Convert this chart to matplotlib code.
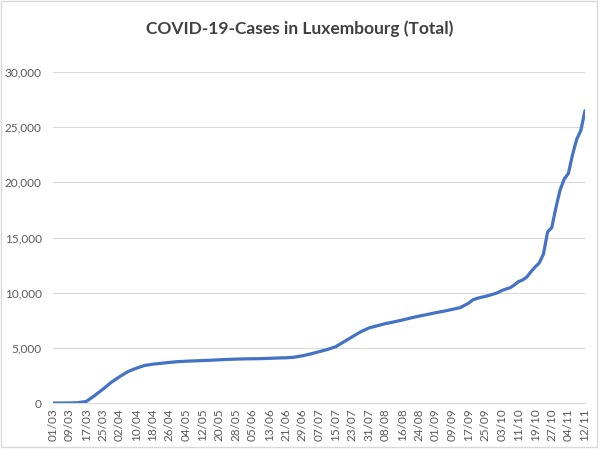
import matplotlib
matplotlib.use("Agg")
import matplotlib.pyplot as plt
from matplotlib.ticker import FuncFormatter
from matplotlib.patches import Rectangle

# days since 01/03 and total cases
day = [0, 4, 8, 12, 16, 20, 24, 28, 32, 36, 40, 44, 48, 52, 56, 60, 64, 68,
       72, 76, 80, 84, 88, 92, 96, 100, 104, 108, 112, 116, 120, 124, 128,
       132, 136, 140, 144, 148, 152, 156, 160, 164, 168, 172, 176, 180, 184,
       188, 192, 196, 200, 202, 204, 206, 208, 210, 212, 214, 216, 218, 220,
       222, 224, 226, 228, 230, 232, 234, 236, 238, 240, 242, 244, 246, 248,
       250, 252, 254, 256]
cases = [0, 2, 5, 34, 140, 670, 1250, 1870, 2380, 2840, 3150, 3400, 3520,
         3600, 3680, 3750, 3790, 3820, 3850, 3880, 3920, 3950, 3980, 4000,
         4010, 4020, 4050, 4080, 4100, 4150, 4280, 4450, 4650, 4850, 5100,
         5550, 6000, 6450, 6800, 7000, 7200, 7350, 7520, 7700, 7870, 8020,
         8180, 8320, 8480, 8650, 9050, 9350, 9480, 9580, 9660, 9760, 9880,
         10000, 10200, 10330, 10450, 10700, 11000, 11150, 11420, 11900, 12330,
         12700, 13500, 15500, 15900, 17700, 19300, 20300, 20800, 22500, 23900,
         24700, 26500]

tick_labels = ['01/03', '09/03', '17/03', '25/03', '02/04', '10/04', '18/04',
               '26/04', '04/05', '12/05', '20/05', '28/05', '05/06', '13/06',
               '21/06', '29/06', '07/07', '15/07', '23/07', '31/07', '08/08',
               '16/08', '24/08', '01/09', '09/09', '17/09', '25/09', '03/10',
               '11/10', '19/10', '27/10', '04/11', '12/11']

plt.rcParams['font.family'] = ['Lato', 'DejaVu Sans']

fig = plt.figure(figsize=(6, 4.49), dpi=100)
ax = fig.add_axes([0.0883, 0.1024, 0.8867, 0.7372])

ax.plot(day, cases, color='#4472C4', linewidth=2.3, solid_capstyle='round')

ax.set_xlim(0, 256)
ax.set_ylim(0, 30000)
ax.set_yticks(range(0, 30001, 5000))
ax.yaxis.set_major_formatter(FuncFormatter(lambda v, p: f"{int(v):,}"))
ax.set_xticks(range(0, 257, 8))
ax.set_xticklabels(tick_labels, rotation=90)

ax.grid(axis='y', color='#D9D9D9', linewidth=0.8)
ax.set_axisbelow(True)
for s in ['top', 'right', 'left']:
    ax.spines[s].set_visible(False)
ax.spines['bottom'].set_color('#D9D9D9')
ax.tick_params(length=0, colors='#595959', labelsize=8.5)
ax.tick_params(axis='x', pad=4)
ax.tick_params(axis='y', pad=8)

fig.text(0.5, 0.935, 'COVID-19-Cases in Luxembourg (Total)', ha='center',
         va='center', fontsize=12.5, fontweight='bold', color='#404040')

fig.patches.append(Rectangle((0.002, 0.004), 0.993, 0.993, transform=fig.transFigure,
                             fill=False, edgecolor='#D9D9D9', linewidth=1))

fig.savefig('out.png', dpi=100)
